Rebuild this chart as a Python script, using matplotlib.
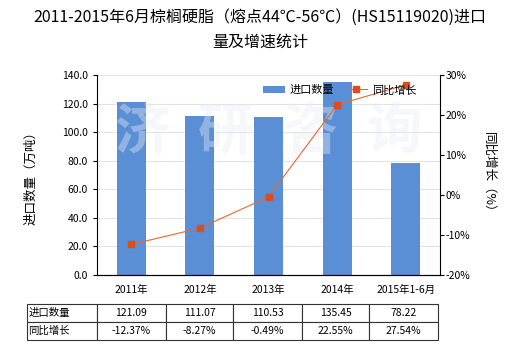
import numpy as np
import matplotlib.pyplot as plt
from matplotlib.ticker import FuncFormatter

plt.rcParams['font.family'] = ['Noto Sans CJK SC', 'DejaVu Sans']

# data
years = ['2011年', '2012年', '2013年', '2014年', '2015年1-6月']
volume = [121.09, 111.07, 110.53, 135.45, 78.22]
growth = [-12.37, -8.27, -0.49, 22.55, 27.54]
volume_txt = ['121.09', '111.07', '110.53', '135.45', '78.22']
growth_txt = ['-12.37%', '-8.27%', '-0.49%', '22.55%', '27.54%']

bar_color = '#5A8ED5'
line_color = '#E8692B'

fig = plt.figure(figsize=(5.2, 3.5), dpi=100)
ax = fig.add_axes([97 / 520, 1 - 275 / 350, 343 / 520, 200 / 350])
x = np.arange(len(years))

ax.bar(x, volume, width=0.42, color=bar_color, zorder=2, label='进口数量')
ax.set_xlim(-0.5, len(years) - 0.5)
ax.set_ylim(0, 140)
ax.set_yticks(np.arange(0, 141, 20))
ax.yaxis.set_major_formatter(FuncFormatter(lambda v, p: '%.1f' % v))
ax.grid(axis='y', color='#e4e4e4', linewidth=0.8, zorder=0)
ax.set_xticks(x)
ax.set_xticklabels(years)
ax.tick_params(axis='both', labelsize=7.5, length=3, width=0.8)
ax.tick_params(axis='x', length=0, pad=7)
for s in ['top', 'right']:
    ax.spines[s].set_visible(False)
ax.set_ylabel('进口数量（万吨）', fontsize=9, labelpad=18)

ax2 = ax.twinx()
ax2.plot(x, growth, color=line_color, linewidth=0.8, marker='s', markersize=4,
         markerfacecolor='#E04B1C', markeredgecolor='#E04B1C', label='同比增长', zorder=3)
ax2.set_ylim(-20, 30)
ax2.set_yticks(np.arange(-20, 31, 10))
ax2.yaxis.set_major_formatter(FuncFormatter(lambda v, p: '%d%%' % v))
ax2.tick_params(axis='y', labelsize=7.5, length=3, width=0.8, pad=1)
for s in ['top', 'left']:
    ax2.spines[s].set_visible(False)
ax2.set_ylabel('同比增长（%）', fontsize=9, rotation=270, labelpad=18)

# watermark
for i, ch in enumerate('济研咨询'):
    ax.text(0.13 + i * 0.245, 0.71, ch, transform=ax.transAxes, fontsize=40,
            color='#e6ecf4', alpha=0.4, ha='center', va='center',
            fontweight='bold', zorder=4)

h1, l1 = ax.get_legend_handles_labels()
h2, l2 = ax2.get_legend_handles_labels()
ax2.legend(h1 + h2, l1 + l2, loc='upper right', bbox_to_anchor=(0.96, 1.0), ncol=2,
           frameon=False, fontsize=8, handlelength=2.0, columnspacing=1.0,
           handletextpad=0.4)

fig.suptitle('2011-2015年6月棕榈硬脂（熔点44℃-56℃）(HS15119020)进口\n量及增速统计',
             fontsize=11.5, y=0.975, linespacing=1.6)

# data table below the chart
cells = [['进口数量'] + volume_txt, ['同比增长'] + growth_txt]
tab = ax.table(cellText=cells, bbox=[(27 - 97) / 343, (275 - 340) / 200, 411 / 343, 36 / 200],
               colWidths=[70, 69, 67, 69, 67, 69], cellLoc='center')
tab.auto_set_font_size(False)
tab.set_fontsize(7.5)
for (r, c), cell in tab.get_celld().items():
    cell.set_linewidth(0.8)
    cell.set_edgecolor('#333333')
    if c == 0:
        cell.set_text_props(ha='left')
        cell.PAD = 0.02

fig.savefig('out.png', dpi=100)
